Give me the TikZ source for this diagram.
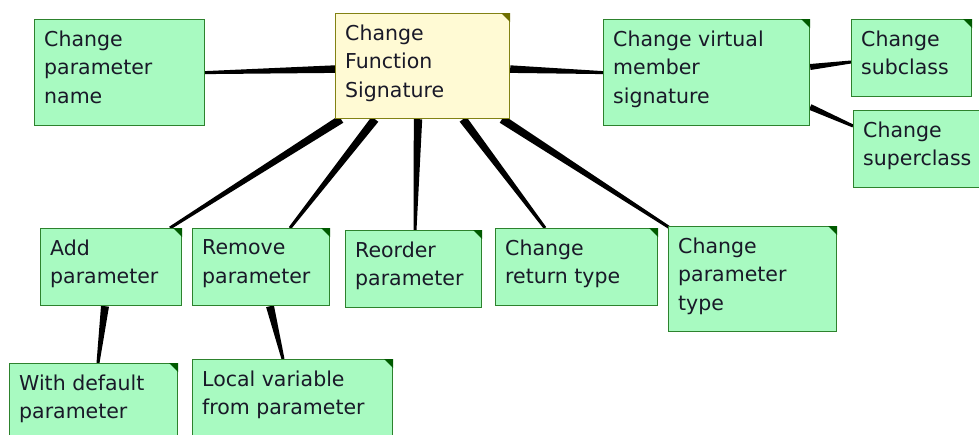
\documentclass[tikz,border=0pt]{standalone}
\usepackage{fontspec}
\setmainfont{DejaVu Sans}
\usetikzlibrary{calc,backgrounds}
\definecolor{gfill}{RGB}{168,250,193}
\definecolor{gline}{RGB}{45,130,45}
\definecolor{gtri}{RGB}{0,90,0}
\definecolor{yfill}{RGB}{255,250,212}
\definecolor{yline}{RGB}{130,130,20}
\definecolor{ytri}{RGB}{110,110,0}
\definecolor{txt}{RGB}{25,25,40}
\tikzset{
  gbox/.style={draw=gline, fill=gfill, line width=1.2pt, inner sep=0pt, anchor=north west, rectangle},
  ybox/.style={draw=yline, fill=yfill, line width=1.2pt, inner sep=0pt, anchor=north west, rectangle},
  lbl/.style={inner sep=0pt, anchor=north west, align=left, text=txt, font=\fontsize{20.5}{28.5}\selectfont},
  conn/.style={fill=black},
}
\newcommand\mybox[7]{% style, name, x, y, w, h, text
  \node[#1, minimum width=#5pt, minimum height=#6pt] (#2) at (#3,#4) {};
  \node[lbl] (#2-t) at ($(#2.north west)+(10,11.5)$) {#7};
}
\newcommand\mytri[2]{\fill[#2] (#1.north east) -- ++(-9,0) -- ++(9,9) -- cycle;}
\newcommand\mytaper[4]{% from, to, wide, narrow
  \fill[conn] ($(#1)!#3!90:(#2)$) -- ($(#2)!#4!-90:(#1)$) -- ($(#2)!#4!90:(#1)$) -- ($(#1)!#3!-90:(#2)$) -- cycle;
}
\begin{document}
\begin{tikzpicture}[x=1pt,y=-1pt]
\useasboundingbox (0,0) rectangle (979,434);
% boxes
\mybox{gbox}{pname}{34}{19}{170}{106}{Change\\parameter\\name}
\mybox{ybox}{cfs}{335}{13}{174}{105}{Change\\Function\\Signature}
\mybox{gbox}{virt}{603}{19}{206}{106}{Change virtual\\member\\signature}
\mybox{gbox}{sub}{851}{19}{120}{77}{Change\\subclass}
\mybox{gbox}{sup}{853}{110}{150}{77}{Change\\superclass}
\mybox{gbox}{add}{40}{228}{141}{77}{Add\\parameter}
\mybox{gbox}{rem}{192}{228}{137}{77}{Remove\\parameter}
\mybox{gbox}{reo}{345}{230}{136}{77}{Reorder\\parameter}
\mybox{gbox}{ret}{495}{228}{162}{77}{Change\\return type}
\mybox{gbox}{ptype}{668}{226}{168}{105}{Change\\parameter\\type}
\mybox{gbox}{wdef}{9}{363}{168}{90}{With default\\parameter}
\mybox{gbox}{local}{192}{359}{200}{90}{Local variable\\from parameter}
% corner marks
\mytri{cfs}{ytri}
\foreach \n in {virt,sub,sup,add,rem,reo,ret,ptype,wdef,local}{\mytri{\n}{gtri}}
% connectors
\begin{pgfonlayer}{background}
\coordinate (c-w) at ($(cfs.west)+(0,3)$);
\coordinate (c-e) at ($(cfs.east)+(0,3)$);
\mytaper{c-w}{pname.east}{3.8pt}{1.5pt}
\mytaper{c-e}{virt.west}{3.8pt}{1.5pt}
\coordinate (c-a) at ($(cfs.south west)+(6,0)$);
\coordinate (a-c) at ($(add.north west)+(130,0)$);
\mytaper{c-a}{a-c}{4.2pt}{1.5pt}
\coordinate (c-r) at ($(cfs.south west)+(40,0)$);
\coordinate (r-c) at ($(rem.north west)+(98,0)$);
\mytaper{c-r}{r-c}{4.2pt}{1.5pt}
\coordinate (c-o) at ($(cfs.south west)+(83,0)$);
\coordinate (o-c) at ($(reo.north west)+(70,0)$);
\mytaper{c-o}{o-c}{4.2pt}{1.5pt}
\coordinate (c-t) at ($(cfs.south west)+(128,0)$);
\coordinate (t-c) at ($(ret.north west)+(50,0)$);
\mytaper{c-t}{t-c}{4.2pt}{1.5pt}
\coordinate (c-p) at ($(cfs.south west)+(167,0)$);
\coordinate (p-c) at ($(ptype.north west)+(2,2)$);
\mytaper{c-p}{p-c}{4.2pt}{1.5pt}
\coordinate (v-s) at ($(virt.north east)+(0,48)$);
\coordinate (s-v) at ($(sub.north west)+(0,43)$);
\mytaper{v-s}{s-v}{3pt}{1.5pt}
\coordinate (v-u) at ($(virt.north east)+(0,88)$);
\coordinate (u-v) at ($(sup.north west)+(0,16)$);
\mytaper{v-u}{u-v}{3pt}{1.5pt}
\coordinate (a-w) at ($(add.south west)+(65,0)$);
\coordinate (w-a) at ($(wdef.north west)+(89,0)$);
\mytaper{a-w}{w-a}{4pt}{1.5pt}
\coordinate (r-l) at ($(rem.south west)+(78,0)$);
\coordinate (l-r) at ($(local.north west)+(91,0)$);
\mytaper{r-l}{l-r}{4pt}{1.5pt}
\end{pgfonlayer}
\end{tikzpicture}
\end{document}
